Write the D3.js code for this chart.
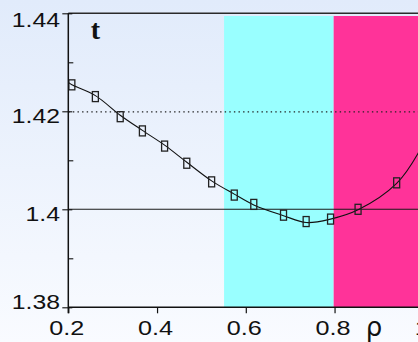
<!DOCTYPE html>
<html>
<head>
<meta charset="utf-8">
<script src="https://cdn.jsdelivr.net/npm/d3@7"></script>
<style>
  html, body { margin: 0; padding: 0; background: #fff; }
  svg { display: block; }
  text { fill: #111; }
</style>
</head>
<body>
<svg id="chart" width="418" height="342"></svg>
<script>
// measured points of t(ρ)
const rho = [0.208, 0.261, 0.317, 0.367, 0.417, 0.467, 0.523, 0.574, 0.618, 0.685, 0.736, 0.791, 0.853, 0.94];
const tVal = [1.4254, 1.4230, 1.4189, 1.4160, 1.4129, 1.4094, 1.4056, 1.4029, 1.4010, 1.3988, 1.3975, 1.3980, 1.4000, 1.4054];

// fitted curve through the points
const curveRho = [0.2, 0.208, 0.261, 0.317, 0.367, 0.417, 0.467, 0.523, 0.574, 0.618, 0.685, 0.736, 0.791, 0.853, 0.94, 0.988, 1.0];
const curveT = [1.4259, 1.4254, 1.4232, 1.4192, 1.4161, 1.4131, 1.4096, 1.4058, 1.4031, 1.4009, 1.3987, 1.3973, 1.3980, 1.3999, 1.4053, 1.4114, 1.4138];

// shaded regions of ρ
const bandStart = [0.551, 0.798];
const bandEnd = [0.798, 1.0];
const bandColor = ["#99ffff", "#ff3399"];

// axis ticks
const xTicks = [0.2, 0.4, 0.6, 0.8, 1.0];
const xTickLabels = ["0.2", "0.4", "0.6", "0.8", "1"];
const yTicks = [1.38, 1.40, 1.42, 1.44];
const yTickLabels = ["1.38", "1.4", "1.42", "1.44"];
const yMinorTicks = [1.39, 1.41, 1.43];
const refSolid = 1.40;
const refDotted = 1.42;

const svg = d3.select("#chart");
const W = 418, H = 342;

const defs = svg.append("defs");
const grad = defs.append("linearGradient").attr("id", "bg")
  .attr("x1", 0).attr("y1", 0).attr("x2", 0).attr("y2", 1);
grad.append("stop").attr("offset", "0%").attr("stop-color", "#e1ebfb");
grad.append("stop").attr("offset", "100%").attr("stop-color", "#f9fbff");
svg.append("rect").attr("width", W).attr("height", H).attr("fill", "url(#bg)");

const x = d3.scaleLinear().domain([0.2, 1.0]).range([68.3, 423.3]);
const y = d3.scaleLinear().domain([1.38, 1.44]).range([307.3, 13.3]);

// bands
svg.append("g").selectAll("rect")
  .data(bandStart.map((s, i) => ({ s, e: bandEnd[i], c: bandColor[i] })))
  .join("rect")
  .attr("x", d => x(d.s))
  .attr("width", d => x(d.e) - x(d.s))
  .attr("y", 16)
  .attr("height", y(1.38) - 16)
  .attr("fill", d => d.c);

// reference lines
svg.append("line")
  .attr("x1", x(0.2)).attr("x2", W)
  .attr("y1", y(refSolid)).attr("y2", y(refSolid))
  .attr("stroke", "#1a1a1a").attr("stroke-width", 1.1);
svg.append("line")
  .attr("x1", x(0.2)).attr("x2", W)
  .attr("y1", y(refDotted) + 0.5).attr("y2", y(refDotted) + 0.5)
  .attr("stroke", "#222").attr("stroke-width", 1.2)
  .attr("stroke-dasharray", "1.4,3.2");

// top frame line
svg.append("line")
  .attr("x1", x(0.2)).attr("x2", W)
  .attr("y1", y(1.44)).attr("y2", y(1.44))
  .attr("stroke", "#2a2a2a").attr("stroke-width", 1.4);

// fitted curve
const line = d3.line().x(d => x(d[0])).y(d => y(d[1])).curve(d3.curveCatmullRom.alpha(0.5));
svg.append("path")
  .datum(curveRho.map((r, i) => [r, curveT[i]]))
  .attr("d", line)
  .attr("fill", "none")
  .attr("stroke", "#111")
  .attr("stroke-width", 1.1);

// point markers
svg.append("g").selectAll("rect")
  .data(rho.map((r, i) => [r, tVal[i]]))
  .join("rect")
  .attr("x", d => x(d[0]) - 3)
  .attr("y", d => y(d[1]) - 5)
  .attr("width", 6)
  .attr("height", 10)
  .attr("fill", "none")
  .attr("stroke", "#222")
  .attr("stroke-width", 1.3);

// x axis
const gx = svg.append("g").attr("transform", `translate(0,${y(1.38)})`)
  .call(d3.axisBottom(x).tickValues(xTicks).tickSizeInner(6).tickSizeOuter(0).tickFormat(""));
gx.select(".domain").attr("stroke", "#111").attr("stroke-width", 1.4)
  .attr("d", `M${x(0.2)},0H${W}`);
gx.selectAll(".tick line").attr("stroke", "#111").attr("stroke-width", 1.2);

svg.append("g").selectAll("text")
  .data(xTicks.map((v, i) => [v, xTickLabels[i]]))
  .join("text")
  .attr("transform", d => `translate(${x(d[0]) - 1.5},335) scale(1.2,1)`)
  .attr("text-anchor", "middle")
  .attr("font-family", "Liberation Sans, Arial, sans-serif")
  .attr("font-size", 21)
  .text(d => d[1]);

svg.append("text")
  .attr("x", 374).attr("y", 336)
  .attr("text-anchor", "middle")
  .attr("font-family", "DejaVu Sans, sans-serif")
  .attr("font-size", 26)
  .text("ρ");

// y axis
const gy = svg.append("g").attr("transform", `translate(${x(0.2)},0)`)
  .call(d3.axisLeft(y).tickValues(yTicks).tickSizeInner(-4).tickSizeOuter(0).tickFormat(""));
gy.select(".domain").attr("stroke", "#111").attr("stroke-width", 1.5)
  .attr("d", `M0,${y(1.44)}V${y(1.38) + 6}`);
gy.selectAll(".tick line").attr("stroke", "#111").attr("stroke-width", 1.1)
  .attr("x1", -6).attr("x2", 4);

const gyMinor = svg.append("g").attr("transform", `translate(${x(0.2)},0)`)
  .call(d3.axisLeft(y).tickValues(yMinorTicks).tickSizeInner(-5).tickSizeOuter(0).tickFormat(""));
gyMinor.select(".domain").remove();
gyMinor.selectAll(".tick line").attr("stroke", "#111").attr("stroke-width", 1.1);

svg.append("g").selectAll("text")
  .data(yTicks.map((v, i) => [v, yTickLabels[i]]))
  .join("text")
  .attr("transform", d => `translate(60,${Math.max(27, Math.min(308.5, y(d[0]) + 11.5))}) scale(1.18,1)`)
  .attr("text-anchor", "end")
  .attr("font-family", "Liberation Sans, Arial, sans-serif")
  .attr("font-size", 21)
  .text(d => d[1]);

// quantity symbol
svg.append("text")
  .attr("x", 95.5).attr("y", 39)
  .attr("text-anchor", "middle")
  .attr("font-family", "Liberation Serif, Times New Roman, serif")
  .attr("font-weight", "bold")
  .attr("font-size", 28)
  .text("t");
</script>
</body>
</html>
